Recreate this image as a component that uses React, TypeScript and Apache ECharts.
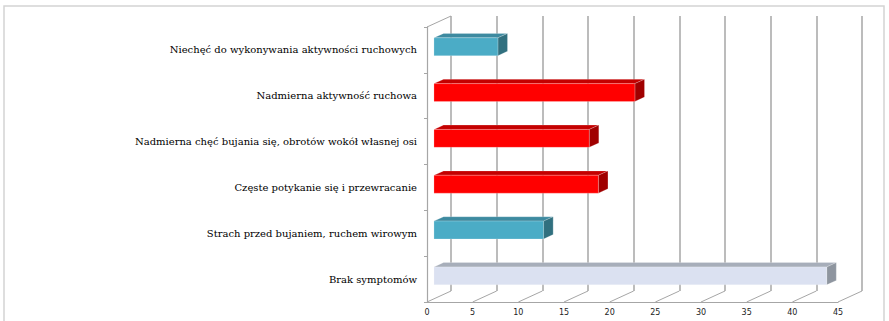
import { useEffect, useRef } from "react";
import * as echarts from "echarts";

// Survey answers, listed top to bottom as shown
const categories = [
  "Niechęć do wykonywania aktywności ruchowych",
  "Nadmierna aktywność ruchowa",
  "Nadmierna chęć bujania się, obrotów wokół własnej osi",
  "Częste potykanie się i przewracanie",
  "Strach przed bujaniem, ruchem wirowym",
  "Brak symptomów",
];
const values = [7, 22, 17, 18, 12, 43];
const axisTicks = [0, 5, 10, 15, 20, 25, 30, 35, 40, 45];

// Face colours of the 3D bars: front, top, side
const BLUE = ["#4bacc6", "#3d8aa0", "#31707f"];
const RED = ["#ff0000", "#c40000", "#a00000"];
const LIGHT = ["#dbe1f1", "#a7aeba", "#8e959f"];
const barFaces = [BLUE, RED, RED, RED, BLUE, LIGHT];

// Oblique depth of the 3D box (pixels from front plane to back wall)
const DX = 24;
const DY = -11;
const BAR_FRONT = 0.29; // bar front face, as a fraction of the depth
const BAR_DEPTH = 0.4; // bar thickness, as a fraction of the depth
const BAR_HEIGHT = 0.39; // bar height, as a fraction of the band

const GRID_LEFT = 427;
const GRID_TOP = 27;
const GRID_W = 411;
const GRID_H = 275;
const GRID_COLOR = "#a6a6a6";

export default function App() {
  const ref = useRef<HTMLDivElement>(null);

  useEffect(() => {
    if (!ref.current) return;
    const chart = echarts.init(ref.current, undefined, { renderer: "svg" });

    const barData = values.map((v, i) => [i, v]);
    const floorData = axisTicks.map((t) => [t, 0]);

    chart.setOption({
      animation: false,
      backgroundColor: "#ffffff",
      graphic: [
        {
          type: "rect",
          shape: { x: 4, y: 6, width: 880, height: 340 },
          style: { fill: "none", stroke: "#d4d4d4", lineWidth: 1.5 },
          silent: true,
          z: 0,
        },
      ],
      grid: [
        { left: GRID_LEFT, top: GRID_TOP, width: GRID_W, height: GRID_H },
        { left: GRID_LEFT + DX, top: GRID_TOP + DY, width: GRID_W, height: GRID_H },
      ],
      xAxis: [
        {
          gridIndex: 0,
          type: "value",
          min: 0,
          max: 45,
          interval: 5,
          axisLine: { show: true, lineStyle: { color: GRID_COLOR, width: 1 } },
          axisTick: { show: false },
          splitLine: { show: false },
          axisLabel: {
            color: "#222",
            fontFamily: "DejaVu Sans",
            fontSize: 8,
            margin: 6,
          },
        },
        {
          gridIndex: 1,
          type: "value",
          min: 0,
          max: 45,
          interval: 5,
          axisLine: { show: false },
          axisTick: { show: false },
          axisLabel: { show: false },
          splitLine: { show: true, lineStyle: { color: GRID_COLOR, width: 1.5 } },
        },
      ],
      yAxis: [
        {
          gridIndex: 0,
          type: "category",
          data: categories,
          inverse: true,
          axisLine: { show: true, lineStyle: { color: GRID_COLOR, width: 1.2 } },
          axisTick: { show: true, length: 3, lineStyle: { color: GRID_COLOR } },
          splitLine: { show: false },
          axisLabel: {
            color: "#000",
            fontFamily: "DejaVu Serif",
            fontSize: 10,
            margin: 10,
          },
        },
        {
          gridIndex: 1,
          type: "value",
          show: false,
        },
      ],
      series: [
        {
          // floor lines running back from each tick, plus the left wall's top edge
          type: "custom",
          xAxisIndex: 0,
          yAxisIndex: 0,
          data: floorData,
          encode: { x: 0, y: 1 },
          z: 1,
          silent: true,
          renderItem: (params: any, api: any) => {
            const cs = params.coordSys;
            const x = api.coord([api.value(0), 0])[0];
            const bottom = cs.y + cs.height;
            const lineStyle = { stroke: GRID_COLOR, lineWidth: 1 };
            const children: any[] = [
              {
                type: "line",
                shape: { x1: x, y1: bottom, x2: x + DX, y2: bottom + DY },
                style: lineStyle,
              },
            ];
            if (params.dataIndex === 0) {
              children.push({
                type: "line",
                shape: { x1: cs.x, y1: cs.y, x2: cs.x + DX, y2: cs.y + DY },
                style: lineStyle,
              });
            }
            return { type: "group", children };
          },
        },
        {
          // 3D bars: front face, top face and right side
          type: "custom",
          xAxisIndex: 0,
          yAxisIndex: 0,
          data: barData,
          encode: { x: 1, y: 0 },
          z: 3,
          renderItem: (params: any, api: any) => {
            const cat = api.value(0);
            const val = api.value(1);
            const start = api.coord([0, cat]);
            const end = api.coord([val, cat]);
            const band = api.size([0, 1])[1];
            const h = band * BAR_HEIGHT;
            const ox = DX * BAR_FRONT;
            const oy = DY * BAR_FRONT;
            const dx = DX * BAR_DEPTH;
            const dy = DY * BAR_DEPTH;
            const x0 = start[0] + ox;
            const x1 = end[0] + ox;
            const yTop = start[1] + oy - h / 2;
            const yBot = yTop + h;
            const faces = barFaces[params.dataIndex];
            const edge = { stroke: "rgba(255,255,255,0.35)", lineWidth: 0.6 };
            return {
              type: "group",
              children: [
                {
                  type: "polygon",
                  shape: {
                    points: [
                      [x0, yTop],
                      [x1, yTop],
                      [x1 + dx, yTop + dy],
                      [x0 + dx, yTop + dy],
                    ],
                  },
                  style: { fill: faces[1], ...edge },
                },
                {
                  type: "polygon",
                  shape: {
                    points: [
                      [x1, yTop],
                      [x1 + dx, yTop + dy],
                      [x1 + dx, yBot + dy],
                      [x1, yBot],
                    ],
                  },
                  style: { fill: faces[2], ...edge },
                },
                {
                  type: "rect",
                  shape: { x: x0, y: yTop, width: x1 - x0, height: h },
                  style: { fill: faces[0], ...edge },
                },
              ],
            };
          },
        },
      ],
    });

    return () => chart.dispose();
  }, []);

  return (
    <div
      ref={ref}
      style={{ position: "fixed", left: 0, top: 0, width: 889, height: 321 }}
    />
  );
}
